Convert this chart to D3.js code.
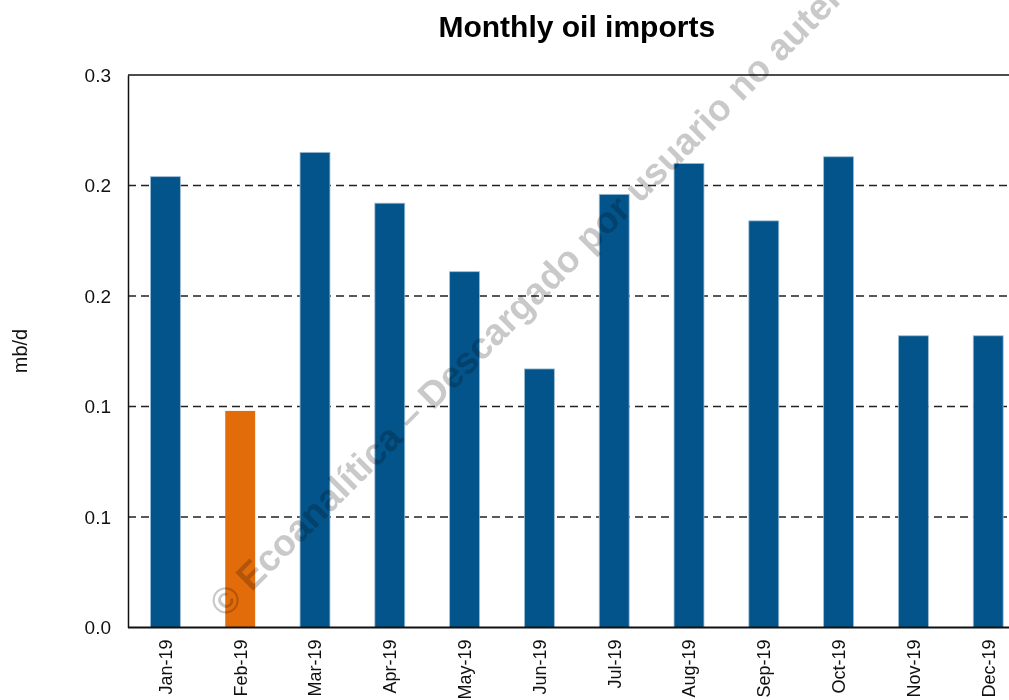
<!DOCTYPE html>
<html>
<head>
<meta charset="utf-8">
<script src="https://cdn.jsdelivr.net/npm/d3@7"></script>
<style>
  body { margin: 0; background: #fff; }
  svg { display: block; font-family: "Liberation Sans", Arial, sans-serif; }
</style>
</head>
<body>
<div id="chart"></div>
<script>
// chart data
const months = ["Jan-19", "Feb-19", "Mar-19", "Apr-19", "May-19", "Jun-19",
                "Jul-19", "Aug-19", "Sep-19", "Oct-19", "Nov-19", "Dec-19"];
const imports = [0.204, 0.098, 0.215, 0.192, 0.161, 0.117,
                 0.196, 0.210, 0.184, 0.213, 0.132, 0.132];
const highlighted = ["Feb-19"];
const yTicks = [0, 0.05, 0.10, 0.15, 0.20, 0.25];
const yTickLabels = ["0.0", "0.1", "0.1", "0.2", "0.2", "0.3"];

const width = 1009, height = 700;
const margin = { top: 75, left: 128, bottom: 72.5 };
const plotRight = 1025.6;   // plot runs past the right edge, as in the original
const blue = "#02548a", orange = "#e36c0a";

const svg = d3.select("#chart").append("svg")
  .attr("width", width)
  .attr("height", height);

const x = d3.scaleBand()
  .domain(months)
  .range([margin.left, plotRight])
  .paddingInner(0.6)
  .paddingOuter(0.3);

const y = d3.scaleLinear()
  .domain([0, 0.25])
  .range([height - margin.bottom, margin.top]);

// dashed gridlines
svg.append("g")
  .selectAll("line")
  .data(yTicks.slice(1, -1))
  .join("line")
  .attr("x1", margin.left)
  .attr("x2", plotRight)
  .attr("y1", d => y(d))
  .attr("y2", d => y(d))
  .attr("stroke", "#222")
  .attr("stroke-width", 1.3)
  .attr("stroke-dasharray", "8,5");

// top frame line
svg.append("line")
  .attr("x1", margin.left)
  .attr("x2", plotRight)
  .attr("y1", y(0.25))
  .attr("y2", y(0.25))
  .attr("stroke", "#111")
  .attr("stroke-width", 1.3);

// bars
svg.append("g")
  .selectAll("rect")
  .data(months)
  .join("rect")
  .attr("x", d => x(d))
  .attr("width", x.bandwidth())
  .attr("y", (d, i) => y(imports[i]))
  .attr("height", (d, i) => y(0) - y(imports[i]))
  .attr("fill", d => highlighted.includes(d) ? orange : blue)
  .attr("stroke", d => highlighted.includes(d) ? "none" : "#9fbdd6")
  .attr("stroke-width", 0.8);

// y axis
const yAxis = svg.append("g")
  .attr("transform", `translate(${margin.left},0)`)
  .call(d3.axisLeft(y)
    .tickValues(yTicks)
    .tickSize(0)
    .tickPadding(17)
    .tickFormat((d, i) => yTickLabels[i]));
yAxis.select(".domain").attr("stroke", "#111").attr("stroke-width", 1.5);
yAxis.selectAll("text")
  .attr("fill", "#111")
  .style("font-size", "19px")
  .style("font-family", "Liberation Sans, Arial, sans-serif");

// x axis
const xAxis = svg.append("g")
  .attr("transform", `translate(0,${y(0)})`)
  .call(d3.axisBottom(x).tickSize(0).tickPadding(0));
xAxis.select(".domain").attr("stroke", "#111").attr("stroke-width", 1.8)
  .attr("d", `M${margin.left},0H${plotRight}`);
xAxis.selectAll("text")
  .attr("fill", "#111")
  .style("font-size", "18px")
  .style("font-family", "Liberation Sans, Arial, sans-serif")
  .attr("text-anchor", "end")
  .attr("dy", "0.35em")
  .attr("y", 0)
  .attr("transform", "translate(0,12) rotate(-90)");

// title
svg.append("text")
  .attr("x", (margin.left + plotRight) / 2)
  .attr("y", 37)
  .attr("text-anchor", "middle")
  .style("font-size", "30px")
  .style("font-weight", "bold")
  .attr("fill", "#000")
  .text("Monthly oil imports");

// y label
svg.append("text")
  .attr("transform", "translate(20,351) rotate(-90)")
  .attr("text-anchor", "middle")
  .attr("dy", "0.35em")
  .style("font-size", "20px")
  .attr("fill", "#111")
  .text("mb/d");

// watermark (multiplied over the marks, so it only shows on white and orange)
svg.append("text")
  .attr("transform", "translate(225,619) rotate(-45)")
  .style("font-size", "37px")
  .style("font-weight", "bold")
  .style("mix-blend-mode", "multiply")
  .attr("fill", "#c9c9c9")
  .text("© Ecoanalítica – Descargado por usuario no autenticado");
</script>
</body>
</html>
